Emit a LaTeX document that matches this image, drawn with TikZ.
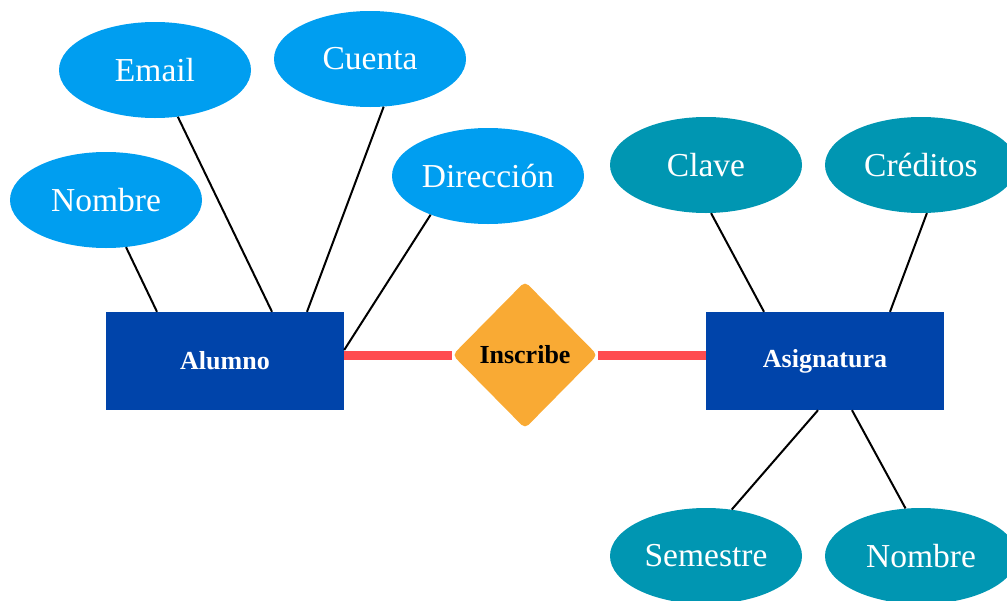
\documentclass[tikz,border=0pt]{standalone}
\usepackage{fontspec}
\setmainfont{Liberation Serif}
\usetikzlibrary{shapes.geometric}
\definecolor{attrblue}{RGB}{0,158,240}
\definecolor{attrteal}{RGB}{0,150,178}
\definecolor{entblue}{RGB}{0,68,170}
\definecolor{relorange}{RGB}{249,170,52}
\definecolor{linkred}{RGB}{255,76,80}
\begin{document}
\begin{tikzpicture}[x=1pt,y=-1pt,
  attr/.style={ellipse, inner sep=0pt, minimum width=192pt, minimum height=96pt, text=white, font=\fontsize{33.5}{35}\selectfont},
  attrA/.style={attr, fill=attrblue},
  attrB/.style={attr, fill=attrteal},
  entity/.style={rectangle, fill=entblue, minimum width=238pt, minimum height=98pt, inner sep=0pt, text=white, font=\fontsize{26}{28}\selectfont\bfseries},
  relation/.style={diamond, fill=relorange, rounded corners=5pt, minimum width=145pt, minimum height=147pt, inner sep=0pt, font=\fontsize{26}{28}\selectfont\bfseries},
  attrlink/.style={draw=black, line width=2pt},
  rellink/.style={draw=linkred, line width=9pt}]
\useasboundingbox (0,0) rectangle (1007,600);
\begin{scope}
\clip (0,0) rectangle (1007,600);
% entities and relation
\node[entity] (alumno) at (225,361) {Alumno};
\node[entity] (asig) at (825,361) {Asignatura};
\node[relation] (inscribe) at (525,355) {Inscribe};
% attributes of Alumno
\node[attrA] (nombreA) at (106,200) {Nombre};
\node[attrA] (email) at (155,70) {Email};
\node[attrA] (cuenta) at (370,59) {Cuenta};
\node[attrA] (direccion) at (488,176) {Dirección};
% attributes of Asignatura
\node[attrB] (clave) at (706,165) {Clave};
\node[attrB] (creditos) at (921,165) {Créditos};
\node[attrB] (semestre) at (706,556) {Semestre};
\node[attrB] (nombreB) at (921,556) {Nombre};
% relation links
\draw[rellink] (inscribe.west -| alumno.east) -- (inscribe.west);
\draw[rellink] (inscribe.east) -- (inscribe.east -| asig.west);
% attribute links
\draw[attrlink] (nombreA.-67) -- ([xshift=-68pt]alumno.north);
\draw[attrlink] (email.-64) -- ([xshift=47pt]alumno.north);
\draw[attrlink] (cuenta.-74) -- ([xshift=82pt]alumno.north);
\draw[attrlink] (direccion.-146) -- ([yshift=11pt]alumno.east);
\draw[attrlink] (clave.-84) -- ([xshift=-61pt]asig.north);
\draw[attrlink] (creditos.-83) -- ([xshift=65pt]asig.north);
\draw[attrlink] (semestre.61) -- ([xshift=-7pt]asig.south);
\draw[attrlink] (nombreB.108) -- ([xshift=27pt]asig.south);
\end{scope}
\end{tikzpicture}
\end{document}
